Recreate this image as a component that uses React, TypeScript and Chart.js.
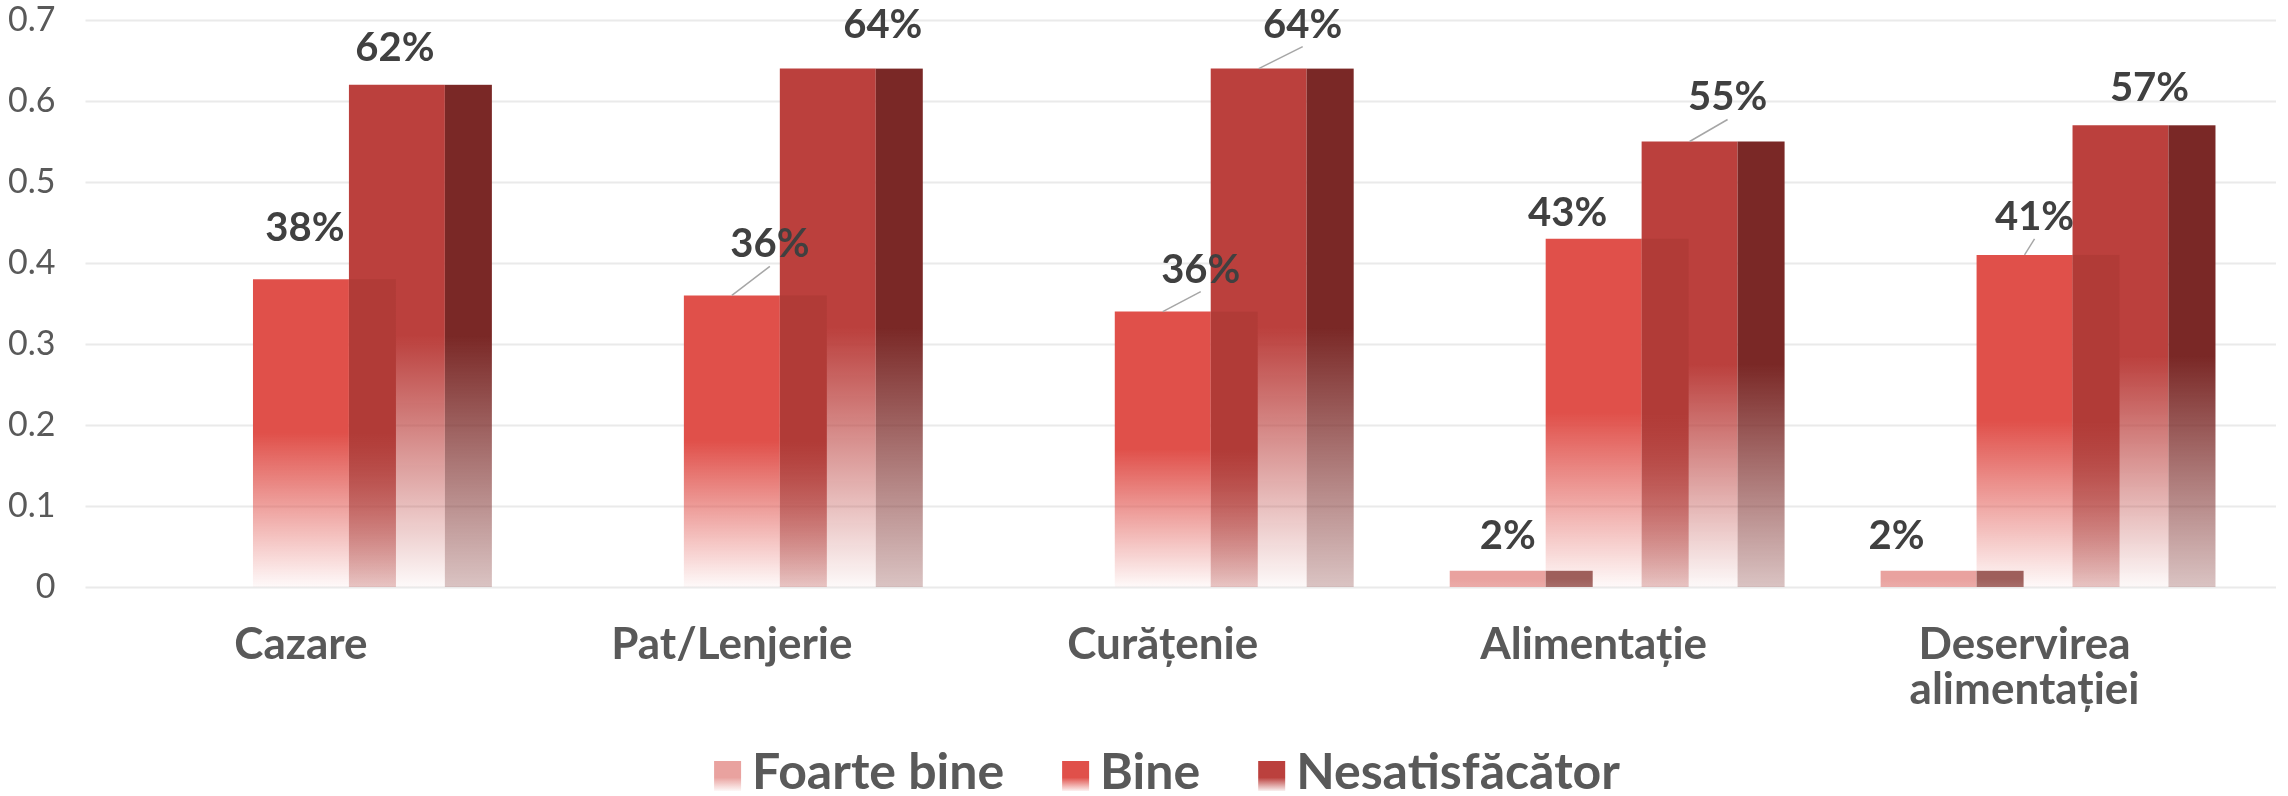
import React, { useEffect, useRef } from "react";
import { Chart, registerables } from "chart.js";

Chart.register(...registerables);

// ---------- data ----------
const categories: (string | string[])[] = [
  "Cazare",
  "Pat/Lenjerie",
  "Curățenie",
  "Alimentație",
  ["Deservirea", "alimentației"],
];
const seriesNames = ["Foarte bine", "Bine", "Nesatisfăcător"];
const foarteBine = [0, 0, 0, 0.02, 0.02];
const bine = [0.38, 0.36, 0.34, 0.43, 0.41];
const nesatisfacator = [0.62, 0.64, 0.64, 0.55, 0.57];
const foarteBineLabels = ["", "", "", "2%", "2%"];
const bineLabels = ["38%", "36%", "36%", "43%", "41%"];
const nesatisfacatorLabels = ["62%", "64%", "64%", "55%", "57%"];
const yTickLabels = ["0", "0.1", "0.2", "0.3", "0.4", "0.5", "0.6", "0.7"];

// ---------- style ----------
const FONT = "Lato, 'Open Sans', sans-serif";
const FRONT = ["#E9A29F", "#E0504A", "#BB403D"];
const SIDE = ["#9E5F5B", "#B13B37", "#7A2826"];
const SIDE_RATIO = 0.49;
const LABEL_NUDGE: number[][][] = [
  [[0, -34], [0, -34], [0, -34], [10, -35], [-32, -35]],
  [[4, -51], [38, -51], [38, -42], [-26, -26], [10, -38]],
  [[-2, -37], [55, -44], [44, -44], [38, -44], [29, -37]],
];
const LEADER = [
  [false, false, false, false, false],
  [false, true, true, false, true],
  [false, false, true, true, false],
];
const LEGEND_CENTER_X = 1167;
const LEGEND_Y = 773;

function hexToRgb(hex: string) {
  const n = parseInt(hex.slice(1), 16);
  return [(n >> 16) & 255, (n >> 8) & 255, n & 255];
}
function rgba(hex: string, a: number) {
  const [r, g, b] = hexToRgb(hex);
  return `rgba(${r},${g},${b},${a})`;
}
function fade(
  ctx: CanvasRenderingContext2D,
  top: number,
  base: number,
  color: string,
  endAlpha: number
) {
  const h = base - top;
  const g = ctx.createLinearGradient(0, top, 0, base);
  const baseA = Math.min(1, Math.max(endAlpha, 1 - h / 160));
  g.addColorStop(0, rgba(color, 1));
  g.addColorStop(0.5, rgba(color, 1));
  g.addColorStop(1, rgba(color, baseA));
  return g;
}

const gridPlugin = {
  id: "extGrid",
  beforeDatasetsDraw(chart: any) {
    const { ctx, chartArea, scales } = chart;
    ctx.save();
    ctx.strokeStyle = "#EAEAEA";
    ctx.lineWidth = 2;
    yTickLabels.forEach((_, i) => {
      const y = Math.round(scales.y.getPixelForValue(i / 10)) + 0.5;
      ctx.beginPath();
      ctx.moveTo(chartArea.left, y);
      ctx.lineTo(chartArea.right + 36, y);
      ctx.stroke();
    });
    ctx.restore();
  },
};

const sidePlugin = {
  id: "sides3d",
  afterDatasetsDraw(chart: any) {
    const { ctx } = chart;
    ctx.save();
    chart.data.datasets.forEach((_: any, di: number) => {
      const meta = chart.getDatasetMeta(di);
      meta.data.forEach((bar: any) => {
        const { x, y, base, width } = bar.getProps(["x", "y", "base", "width"], true);
        if (base - y < 0.5) return;
        const left = x + width / 2;
        const w = width * SIDE_RATIO;
        ctx.fillStyle = fade(ctx, y, base, SIDE[di], 0.28);
        ctx.fillRect(left, y, w, base - y);
      });
    });
    ctx.restore();
  },
};

const labelPlugin = {
  id: "valueLabels",
  afterDatasetsDraw(chart: any) {
    const { ctx } = chart;
    const texts = [foarteBineLabels, bineLabels, nesatisfacatorLabels];
    ctx.save();
    ctx.font = `bold 40px ${FONT}`;
    ctx.fillStyle = "#404040";
    ctx.textAlign = "center";
    ctx.textBaseline = "middle";
    chart.data.datasets.forEach((_: any, di: number) => {
      const meta = chart.getDatasetMeta(di);
      meta.data.forEach((bar: any, i: number) => {
        const t = texts[di][i];
        if (!t) return;
        const { x, y } = bar.getProps(["x", "y"], true);
        const [dx, dy] = LABEL_NUDGE[di][i];
        const lx = x + dx;
        const ly = y + dy;
        if (LEADER[di][i]) {
          ctx.save();
          ctx.strokeStyle = "#A6A6A6";
          ctx.lineWidth = 1.5;
          ctx.beginPath();
          ctx.moveTo(x, y);
          ctx.lineTo(lx, ly + 22);
          ctx.stroke();
          ctx.restore();
        }
        ctx.fillText(t, lx, ly);
      });
    });
    ctx.restore();
  },
};

const legendPlugin = {
  id: "customLegend",
  afterDraw(chart: any) {
    const { ctx } = chart;
    ctx.save();
    ctx.font = `bold 50px ${FONT}`;
    ctx.textBaseline = "middle";
    ctx.textAlign = "left";
    const boxW = 27;
    const boxH = 30;
    const gap = 11;
    const spacing = 58;
    const names = chart.data.datasets.map((d: any) => d.label as string);
    const widths = names.map((n: string) => boxW + gap + ctx.measureText(n).width);
    const total = widths.reduce((a: number, b: number) => a + b, 0) + spacing * (names.length - 1);
    let x = LEGEND_CENTER_X - total / 2;
    names.forEach((n: string, i: number) => {
      const top = LEGEND_Y - boxH / 2 + 3;
      const g = ctx.createLinearGradient(0, top, 0, top + boxH);
      g.addColorStop(0, rgba(FRONT[i], 1));
      g.addColorStop(0.55, rgba(FRONT[i], 1));
      g.addColorStop(1, rgba(FRONT[i], 0.08));
      ctx.fillStyle = g;
      ctx.fillRect(x, top, boxW, boxH);
      ctx.fillStyle = "#595959";
      ctx.fillText(n, x + boxW + gap, LEGEND_Y);
      x += widths[i] + spacing;
    });
    ctx.restore();
  },
};

function frontColor(i: number) {
  return (c: any) => {
    const chart = c.chart;
    if (c.type !== "data" || !chart.chartArea) return FRONT[i];
    const ys = chart.scales.y;
    const top = ys.getPixelForValue(c.raw);
    const base = ys.getPixelForValue(0);
    if (!isFinite(top) || !isFinite(base) || base - top < 1) return FRONT[i];
    return fade(chart.ctx, top, base, FRONT[i], 0.03);
  };
}

export default function App() {
  const ref = useRef<HTMLCanvasElement | null>(null);
  useEffect(() => {
    if (!ref.current) return;
    const series = [foarteBine, bine, nesatisfacator];
    const chart = new Chart(ref.current, {
      type: "bar",
      data: {
        labels: categories as any,
        datasets: series.map((d, i) => ({
          label: seriesNames[i],
          data: d,
          backgroundColor: frontColor(i) as any,
          borderWidth: 0,
          categoryPercentage: 0.668,
          barPercentage: 1,
        })),
      },
      options: {
        animation: false,
        responsive: true,
        maintainAspectRatio: false,
        layout: { padding: { top: 20, right: 48, bottom: 0, left: 0 } },
        plugins: {
          legend: { display: false },
          tooltip: { enabled: false },
        },
        scales: {
          x: {
            grid: { display: false, drawTicks: false },
            border: { display: false },
            ticks: {
              padding: 35,
              color: "#595959",
              font: { family: FONT, size: 44, weight: "bold", lineHeight: 1.03 },
              maxRotation: 0,
              autoSkip: false,
            },
            afterFit(scale: any) {
              scale.height = 209;
            },
          },
          y: {
            min: 0,
            max: 0.7,
            grid: { display: false, drawTicks: false },
            border: { display: false },
            ticks: {
              stepSize: 0.1,
              padding: 30,
              color: "#595959",
              font: { family: FONT, size: 34 },
              callback: (_v: any, i: number) => yTickLabels[i],
            },
            afterFit(scale: any) {
              scale.width = 85.5;
              scale.paddingTop = 0;
              scale.paddingBottom = 0;
            },
          },
        },
      },
      plugins: [gridPlugin, sidePlugin, labelPlugin, legendPlugin],
    });
    return () => chart.destroy();
  }, []);
  return (
    <div style={{ position: "absolute", left: 0, top: 0, width: 2288, height: 796, background: "#fff" }}>
      <canvas ref={ref} />
    </div>
  );
}
